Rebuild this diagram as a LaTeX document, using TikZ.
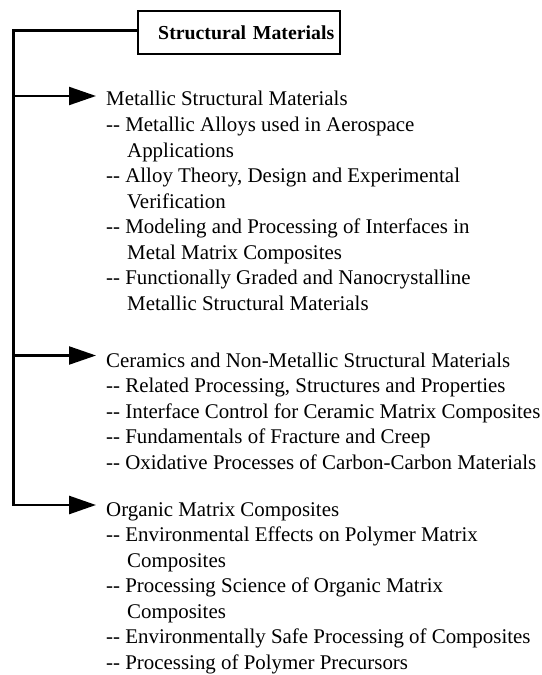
\documentclass[tikz,border=0pt]{standalone}
\usepackage{fontspec}
\setmainfont{Liberation Serif}
\usetikzlibrary{arrows.meta}
\begin{document}
\begin{tikzpicture}[x=1bp,y=-1bp,
  txt/.style={anchor=base west, inner sep=0pt, font=\fontsize{20.9bp}{23bp}\selectfont},
  trunk/.style={line width=2.6bp},
  tip/.style={-{Triangle[length=27bp,width=18bp]}},
  branch/.style={line width=2.2bp, tip},
  titlebox/.style={draw, line width=2.4bp, anchor=north west, inner xsep=6bp,
    inner ysep=0pt, minimum height=43bp, text width=190bp, align=right,
    font=\fontsize{19.8bp}{22bp}\selectfont\bfseries}]
\useasboundingbox (0,0) rectangle (542,675);

% title box
\node[titlebox] (title) at (137,10) {Structural Materials};

% branch points on the trunk
\coordinate (j1) at (13.5,96);
\coordinate (j2) at (13.5,355.5);
\coordinate (j3) at (13.5,505);

% Metallic structural materials
\node[txt] (m0) at (106,106)   {Metallic Structural Materials};
\node[txt] (m1) at (106,131.5) {-{}- Metallic Alloys used in Aerospace};
\node[txt] (m2) at (127,157)   {Applications};
\node[txt] (m3) at (106,182.5) {-{}- Alloy Theory, Design and Experimental};
\node[txt] (m4) at (127,208)   {Verification};
\node[txt] (m5) at (106,233.5) {-{}- Modeling and Processing of Interfaces in};
\node[txt] (m6) at (127,259)   {Metal Matrix Composites};
\node[txt] (m7) at (106,284.5) {-{}- Functionally Graded and Nanocrystalline};
\node[txt] (m8) at (127,310)   {Metallic Structural Materials};

% Ceramics
\node[txt] (c0) at (106,367)   {Ceramics and Non-Metallic Structural Materials};
\node[txt] (c1) at (106,392.5) {-{}- Related Processing, Structures and Properties};
\node[txt] (c2) at (106,418)   {-{}- Interface Control for Ceramic Matrix Composites};
\node[txt] (c3) at (106,443.5) {-{}- Fundamentals of Fracture and Creep};
\node[txt] (c4) at (106,469)   {-{}- Oxidative Processes of Carbon-Carbon Materials};

% Organic matrix composites
\node[txt] (o0) at (106,516)   {Organic Matrix Composites};
\node[txt] (o1) at (106,541.5) {-{}- Environmental Effects on Polymer Matrix};
\node[txt] (o2) at (127,567)   {Composites};
\node[txt] (o3) at (106,592.5) {-{}- Processing Science of Organic Matrix};
\node[txt] (o4) at (127,618)   {Composites};
\node[txt] (o5) at (106,643.5) {-{}- Environmentally Safe Processing of Composites};
\node[txt] (o6) at (106,669)   {-{}- Processing of Polymer Precursors};

% trunk from the title down to the last branch
\draw[trunk, tip] ([yshift=2bp]title.west) -| (j3) -- ([xshift=-10bp]o0.west |- j3);
\draw[branch] (j1) -- ([xshift=-10bp]m0.west |- j1);
\draw[branch] (j2) -- ([xshift=-10bp]c0.west |- j2);
\end{tikzpicture}
\end{document}
